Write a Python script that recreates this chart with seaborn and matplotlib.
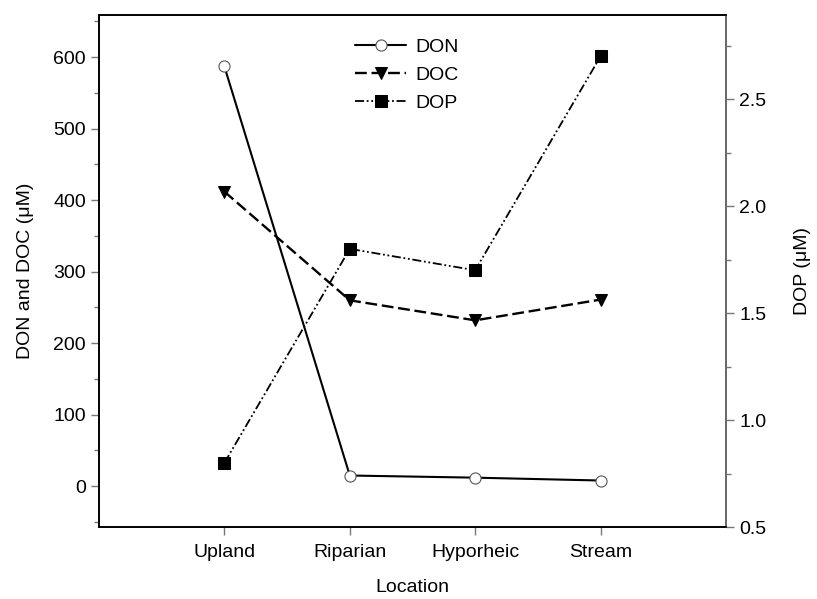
import matplotlib
matplotlib.use("Agg")
import matplotlib.pyplot as plt
import numpy as np
import pandas as pd
import seaborn as sns
from matplotlib.ticker import MultipleLocator

locations = ["Upland", "Riparian", "Hyporheic", "Stream"]
don = [587, 15, 12, 8]
doc = [412, 260, 232, 261]
dop = [0.80, 1.80, 1.70, 2.70]

sns.set_theme(style="ticks")
plt.rcParams["font.family"] = ["Liberation Sans", "DejaVu Sans"]
plt.rcParams["text.color"] = "black"
plt.rcParams["axes.labelcolor"] = "black"

pos = np.arange(len(locations))
df = pd.DataFrame({"pos": pos, "DON": don, "DOC": doc, "DOP": dop})

fig = plt.figure(figsize=(8.17, 5.99), dpi=100)
ax = fig.add_axes([99 / 817, 1 - 527 / 599, (726 - 99) / 817, (527 - 15) / 599])
ax2 = ax.twinx()

sns.lineplot(data=df, x="pos", y="DON", ax=ax, color="black", lw=1.5,
             marker="o", markersize=8, markerfacecolor="white",
             markeredgecolor="#555555", markeredgewidth=0.8, label="DON", legend=False)
sns.lineplot(data=df, x="pos", y="DOC", ax=ax, color="black", lw=1.7,
             marker="v", markersize=9, markeredgecolor="black", label="DOC", legend=False)
ax.lines[-1].set_dashes((5, 2))
sns.lineplot(data=df, x="pos", y="DOP", ax=ax2, color="black", lw=1.3,
             marker="s", markersize=8, markeredgecolor="black", label="DOP", legend=False)
ax2.lines[-1].set_dashes((5, 1.5, 1, 1.5, 1, 1.5))

ax.set_xlim(-1, 4)
ax.set_xticks(pos)
ax.set_xticklabels(locations)
ax.set_ylim(-57, 659)
ax.yaxis.set_minor_locator(MultipleLocator(50))
ax.set_yticks(np.arange(0, 700, 100))
ax2.set_ylim(0.5, 2.893)
ax2.set_yticks(np.arange(0.5, 2.6, 0.5))
ax2.set_yticklabels([f"{v:.1f}" for v in np.arange(0.5, 2.6, 0.5)])
ax2.yaxis.set_minor_locator(MultipleLocator(0.25))

for a in (ax, ax2):
    a.tick_params(which="major", length=6, width=1, color="#777777",
                  labelsize=14, labelcolor="black", direction="out")
    a.tick_params(which="minor", length=3.5, width=1, color="#777777", direction="out")
    for s in a.spines.values():
        s.set_linewidth(1.2)
        s.set_color("black")
ax2.spines["right"].set_color("#777777")
ax.tick_params(axis="x", pad=6)

ax.set_xlabel("Location", fontsize=14, labelpad=13)
ax.set_ylabel("DON and DOC (\u03bcM)", fontsize=14, labelpad=14)
ax2.set_ylabel("DOP (\u03bcM)", fontsize=14, labelpad=20)

handles = ax.get_lines()[:2] + ax2.get_lines()[:1]
ax2.legend(handles, ["DON", "DOC", "DOP"], loc="upper left",
           bbox_to_anchor=(0.381, 0.988), frameon=False, fontsize=14,
           handlelength=2.6, labelspacing=0.52, handletextpad=0.5)

fig.savefig("out.png", dpi=100)
